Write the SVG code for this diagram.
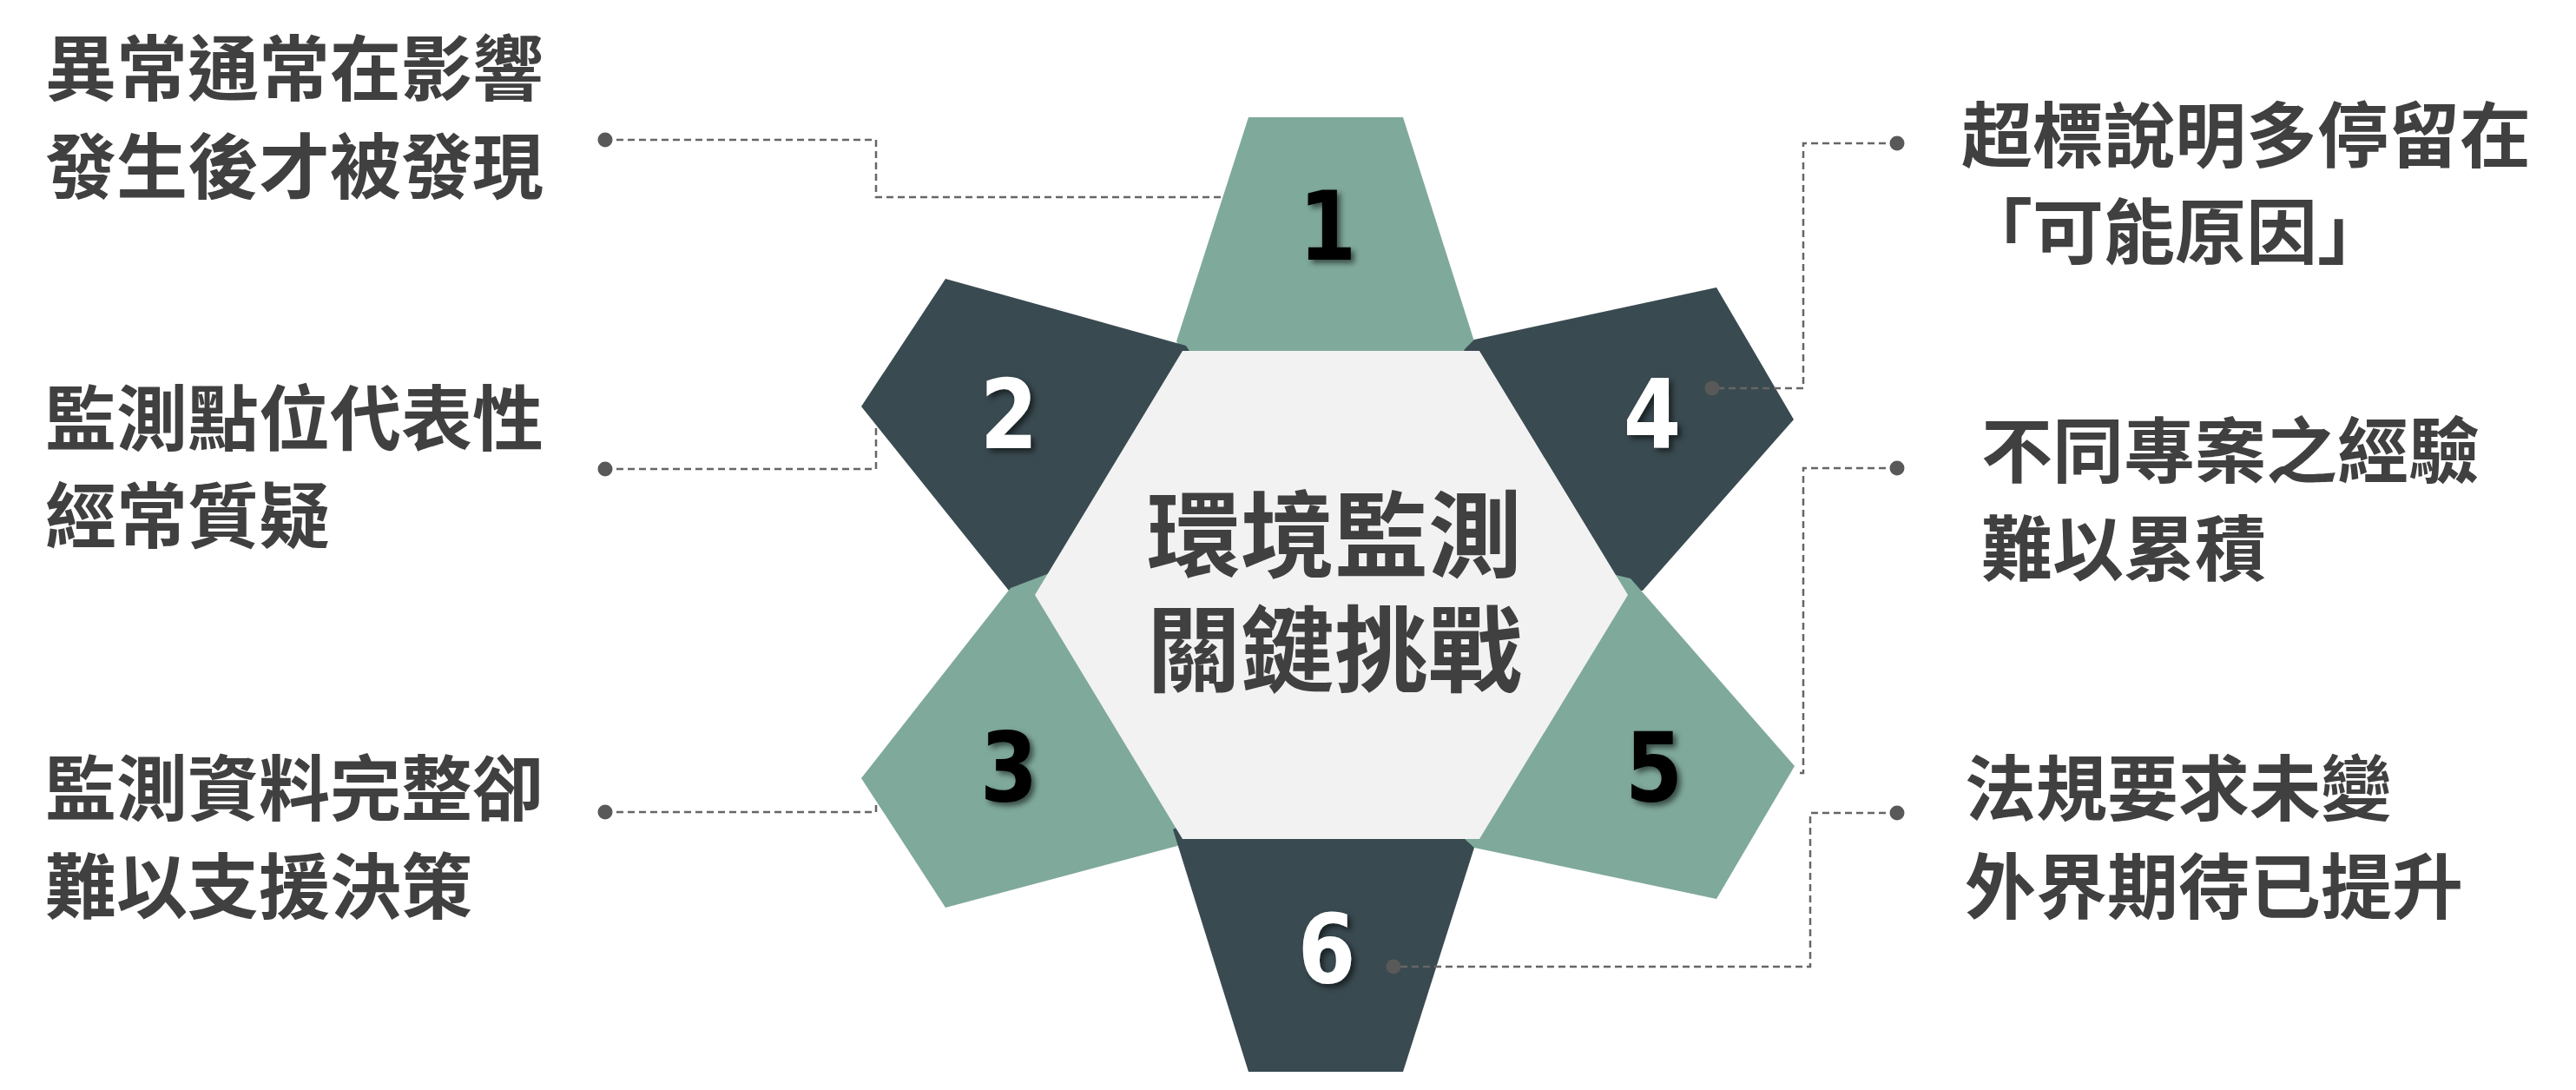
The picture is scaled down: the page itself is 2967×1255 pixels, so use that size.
<svg xmlns="http://www.w3.org/2000/svg" width="2967" height="1255" viewBox="0 0 2967 1255">
<defs>
<style>
.green{fill:#7FA99B}
.dark{fill:#394A50}
.hex{fill:#F2F2F2}
.num{font-family:"DejaVu Sans",sans-serif;font-weight:700;font-size:110px;text-anchor:middle}
.nb{fill:#000000}
.nw{fill:#FFFFFF}
.title{font-family:"Noto Sans CJK TC","Noto Sans CJK SC",sans-serif;font-weight:700;font-size:108px;fill:#404040;text-anchor:middle}
.lbl{font-family:"Noto Sans CJK TC","Noto Sans CJK SC",sans-serif;font-weight:700;font-size:82px;fill:#404040;dominant-baseline:central}
.conn{fill:none;stroke:#666666;stroke-width:2.5;stroke-dasharray:8 5}
.dot{fill:#595959}
</style>
<filter id="sh" x="-30%" y="-30%" width="160%" height="160%">
<feDropShadow dx="4" dy="4" stdDeviation="3" flood-color="#000000" flood-opacity="0.55"/>
</filter>
</defs>
<rect width="2967" height="1255" fill="#FFFFFF"/>

<g id="petal-1">
<polygon class="green" points="1438,135 1616,135 1698,393 1688,425 1530,685 1372,425 1355,393"/>
</g>
<g id="petal-2">
<polygon class="dark" points="1089,321 1366,398 1380,420 1530,685 1162,680 992,468"/>
</g>
<g id="petal-3">
<polygon class="green" points="992,896 1164,677 1240,648 1530,685 1370,960 1356,974 1089,1045"/>
</g>
<g id="petal-4">
<polygon class="dark" points="1977,331 2066,483 1892,680 1870,680 1530,685 1680,420 1687,402 1698,391"/>
</g>
<g id="petal-6">
<polygon class="dark" points="1438,1234 1351,955 1372,945 1530,685 1690,960 1698,976 1616,1234"/>
</g>
<g id="petal-5">
<polygon class="green" points="2067,882 1892,682 1878,666 1840,657 1530,685 1680,955 1688,967 1698,976 1977,1035"/>
</g>

<g id="center">
<polygon class="hex" points="1362,404 1704,404 1875,685 1704,966 1362,966 1192,685"/>
<text class="title" x="1537" y="656">環境監測<tspan x="1537" dy="132">關鍵挑戰</tspan></text>
</g>

<g id="numbers" filter="url(#sh)">
<text class="num nb" transform="translate(1529,299) scale(0.87,1)">1</text>
<text class="num nw" transform="translate(1162,516) scale(0.87,1)">2</text>
<text class="num nb" transform="translate(1162,922) scale(0.87,1)">3</text>
<text class="num nw" transform="translate(1903,516) scale(0.87,1)">4</text>
<text class="num nb" transform="translate(1905,922) scale(0.87,1)">5</text>
<text class="num nw" transform="translate(1528,1131) scale(0.87,1)">6</text>
</g>

<g id="connectors">
<path class="conn" d="M697,161 H1009 V227 H1409"/>
<path class="conn" d="M697,540 H1009 V489"/>
<path class="conn" d="M697,935 H1009 V922"/>
<path class="conn" d="M2185,165 H2077 V447 H1972"/>
<path class="conn" d="M2185,539 H2077 V890 H2068"/>
<path class="conn" d="M2185,936 H2085 V1113 H1605"/>
<circle class="dot" cx="697" cy="161" r="8.5"/>
<circle class="dot" cx="697" cy="540" r="8.5"/>
<circle class="dot" cx="697" cy="935" r="8.5"/>
<circle class="dot" cx="2185" cy="165" r="8.5"/>
<circle class="dot" cx="2185" cy="539" r="8.5"/>
<circle class="dot" cx="2185" cy="936" r="8.5"/>
<circle class="dot" cx="1972" cy="447" r="8.5"/>
<circle class="dot" cx="1605" cy="1113" r="8.5"/>
</g>

<g id="label-1">
<text class="lbl" x="52" y="73">異常通常在影響</text>
<text class="lbl" x="52" y="186">發生後才被發現</text>
</g>
<g id="label-2">
<text class="lbl" x="52" y="476">監測點位代表性</text>
<text class="lbl" x="52" y="588">經常質疑</text>
</g>
<g id="label-3">
<text class="lbl" x="52" y="902">監測資料完整卻</text>
<text class="lbl" x="52" y="1015">難以支援決策</text>
</g>
<g id="label-4">
<text class="lbl" x="2259" y="150">超標說明多停留在</text>
<text class="lbl" x="2259" y="261">「可能原因」</text>
</g>
<g id="label-5">
<text class="lbl" x="2282" y="513">不同專案之經驗</text>
<text class="lbl" x="2282" y="626">難以累積</text>
</g>
<g id="label-6">
<text class="lbl" x="2263" y="902">法規要求未變</text>
<text class="lbl" x="2263" y="1015">外界期待已提升</text>
</g>
</svg>
